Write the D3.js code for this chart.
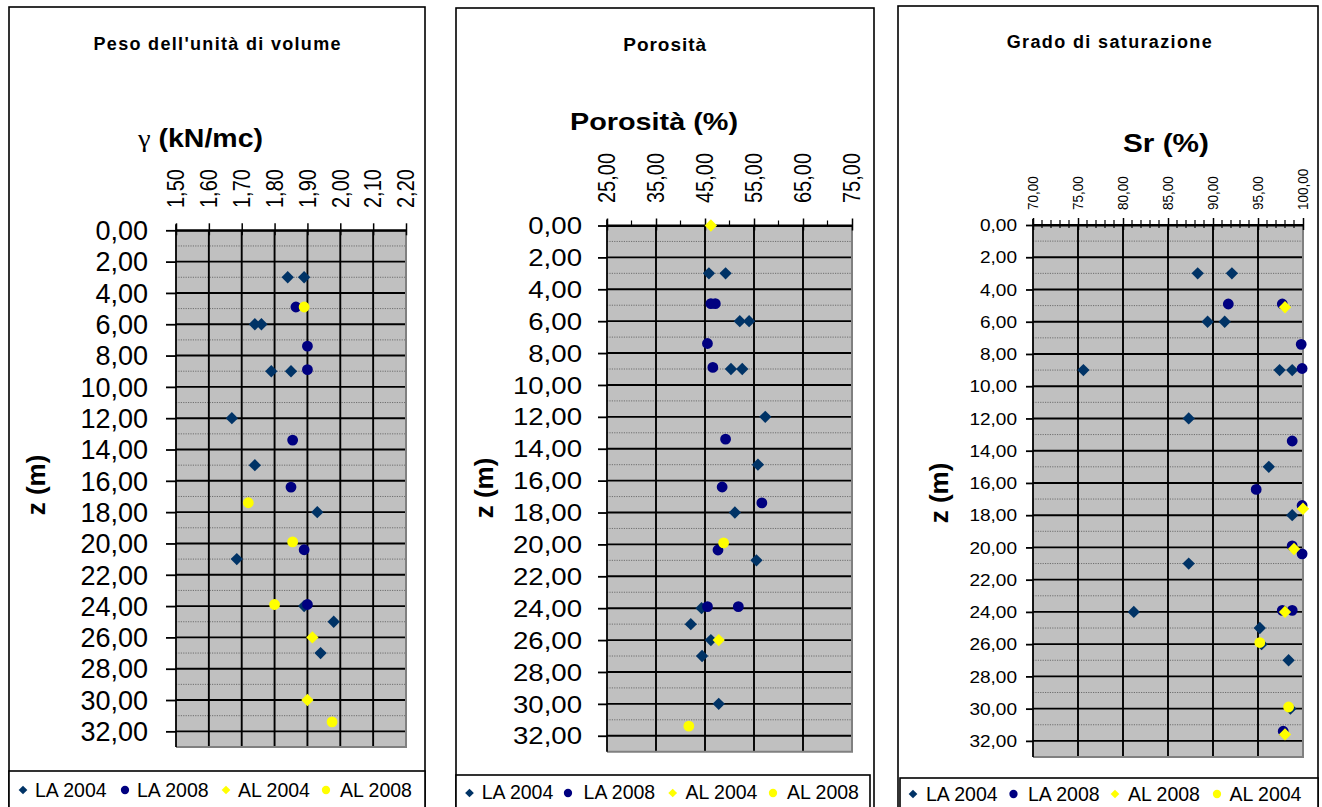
<!DOCTYPE html>
<html>
<head>
<meta charset="utf-8">
<script src="https://cdn.jsdelivr.net/npm/d3@7"></script>
<style>
  body { margin: 0; background: #fff; }
  svg { display: block; }
  text { font-family: "Liberation Sans", Arial, sans-serif; fill: #000; }
</style>
</head>
<body>
<svg id="chart" width="1322" height="807"></svg>
<script>
// ---- depth axis (shared) ----
const depthTicks = [0, 2, 4, 6, 8, 10, 12, 14, 16, 18, 20, 22, 24, 26, 28, 30, 32];
const depthMinor = [1, 3, 5, 7, 9, 11, 13, 15, 17, 19, 21, 23, 25, 27, 29, 31];

// ---- unit weight (kN/mc) ----
const gammaTicks = [1.5, 1.6, 1.7, 1.8, 1.9, 2.0, 2.1, 2.2];
const gammaLA2004 = [[1.84, 3], [1.89, 3], [1.74, 6], [1.76, 6], [1.79, 9], [1.85, 9], [1.67, 12],
                     [1.74, 15], [1.93, 18], [1.685, 21], [1.89, 24], [1.98, 25], [1.94, 27]];
const gammaLA2008 = [[1.865, 4.9], [1.90, 7.4], [1.90, 8.9], [1.855, 13.4], [1.85, 16.4], [1.89, 20.4], [1.90, 23.9]];
const gammaAL2004 = [[1.915, 26], [1.90, 30]];
const gammaAL2008 = [[1.89, 4.9], [1.72, 17.4], [1.855, 19.9], [1.80, 23.9], [1.975, 31.4]];

// ---- porosity (%) ----
const porosityTicks = [25, 35, 45, 55, 65, 75];
const porosityMinor = [30, 40, 50, 60, 70];
const porLA2004 = [[45.8, 3], [49.2, 3], [52.1, 6], [54.0, 6], [50.3, 9], [52.6, 9], [57.3, 12], [55.8, 15],
                   [51.1, 18], [55.5, 21], [44.3, 24], [42.1, 25], [46.2, 26], [44.4, 27], [47.8, 30]];
const porLA2008 = [[46.2, 4.9], [47.1, 4.9], [45.5, 7.4], [46.6, 8.9], [49.2, 13.4], [48.5, 16.4],
                   [56.6, 17.4], [47.65, 20.35], [45.5, 23.9], [51.8, 23.9]];
const porAL2004 = [[46.2, 0], [47.8, 26]];
const porAL2008 = [[48.8, 19.9], [41.7, 31.4]];

// ---- degree of saturation (%) ----
const srTicks = [70, 75, 80, 85, 90, 95, 100];
const srMinor = [71, 72, 73, 74, 76, 77, 78, 79, 81, 82, 83, 84, 86, 87, 88, 89, 91, 92, 93, 94, 96, 97, 98, 99];
const srLA2004 = [[88.3, 3], [92.1, 3], [89.4, 6], [91.3, 6], [75.6, 9], [97.4, 9], [98.8, 9], [87.3, 12],
                  [96.2, 15], [98.8, 18], [87.3, 21], [81.2, 24], [95.2, 25], [95.4, 26], [98.4, 27], [98.6, 30]];
const srLA2008 = [[91.7, 4.9], [97.7, 4.9], [99.8, 7.4], [99.9, 8.9], [98.8, 13.4], [94.8, 16.4], [99.9, 17.4],
                  [98.8, 19.9], [99.9, 20.4], [97.7, 23.9], [98.8, 23.9], [97.8, 31.4]];
const srAL2008 = [[98.0, 5.1], [100.0, 17.6], [99.0, 20.1], [98.0, 24.0], [98.0, 31.6]];
const srAL2004 = [[95.2, 25.9], [98.4, 29.9]];

// ---- legend labels ----
const legendLabels = ["LA 2004", "LA 2008", "AL 2004", "AL 2008"];
const legendLabelsSr = ["LA 2004", "LA 2008", "AL 2008", "AL 2004"];

// marker styles, in series order
const styles = [
  { shape: "diamond", color: "#003366" },
  { shape: "circle",  color: "#000080" },
  { shape: "diamond", color: "#FFFF00" },
  { shape: "circle",  color: "#FFFF00" }
];

const fmt = v => v.toFixed(2).replace(".", ",");

const panels = [
  {
    frame: { x: 9, y: 7, w: 416 },
    plot: { x0: 176, x1: 406, y0: 230.3, y1: 747 },
    title: { text: "Peso dell'unità di volume", x: 217, y: 50, size: 18, len: 247 },
    xTitle: { greek: "γ", text: " (kN/mc)", x: 200.5, y: 147, size: 26, len: 125 },
    zTitle: { x: 36, y: 485 },
    xDomain: [1.5, 2.2], xTicks: gammaTicks, xMinor: [],
    xLabel: { size: 20, bottom: 208, sy: 1.15 },
    yLabel: { size: 27, right: 148, sx: 1.0 },
    yTick: 10,
    series: [gammaLA2004, gammaLA2008, gammaAL2004, gammaAL2008],
    legend: { x: 9, y: 771, w: 416, labels: legendLabels,
              sym: [23, 125, 226, 326], txt: [35, 137, 238, 340], symY: 790, txtY: 797 }
  },
  {
    frame: { x: 456, y: 8, w: 418 },
    plot: { x0: 607, x1: 852, y0: 225.5, y1: 751.7 },
    title: { text: "Porosità", x: 664.7, y: 50.5, size: 19, len: 83 },
    xTitle: { text: "Porosità (%)", x: 654, y: 130, size: 24, len: 168 },
    zTitle: { x: 484, y: 488 },
    xDomain: [25, 75], xTicks: porosityTicks, xMinor: porosityMinor,
    xLabel: { size: 20, bottom: 203, sy: 1.15 },
    yLabel: { size: 24, right: 582, sx: 1.15 },
    yTick: 9,
    series: [porLA2004, porLA2008, porAL2004, porAL2008],
    legend: { x: 456, y: 775, w: 414, labels: legendLabels,
              sym: [469.5, 568, 672.7, 773], txt: [481.7, 583.6, 685.5, 787], symY: 793, txtY: 799 }
  },
  {
    frame: { x: 898, y: 6, w: 420 },
    plot: { x0: 1033, x1: 1303, y0: 225, y1: 757 },
    title: { text: "Grado di saturazione", x: 1109.2, y: 48, size: 18, len: 205 },
    xTitle: { text: "Sr (%)", x: 1166, y: 152, size: 26, len: 86 },
    zTitle: { x: 939, y: 493 },
    xDomain: [70, 100], xTicks: srTicks, xMinor: srMinor,
    xLabel: { size: 13.5, bottom: 210, sy: 1.1 },
    yLabel: { size: 17, right: 1017, sx: 1.12 },
    yTick: 7,
    series: [srLA2004, srLA2008, srAL2008, srAL2004],
    legend: { x: 900, y: 778, w: 418, labels: legendLabelsSr,
              sym: [913, 1013.5, 1115, 1217], txt: [926, 1028, 1128, 1229.5], symY: 794, txtY: 800.5 }
  }
];

const svg = d3.select("#chart");

function markerPath(shape, big) {
  if (shape === "diamond") return d3.symbol(d3.symbolSquare, big ? 76 : 38)();
  return d3.symbol(d3.symbolCircle, big ? 92 : 54)();
}

panels.forEach(p => {
  const g = svg.append("g");
  const P = p.plot;

  // chart-area frame
  g.append("rect")
    .attr("x", p.frame.x).attr("y", p.frame.y)
    .attr("width", p.frame.w).attr("height", 900)
    .attr("fill", "#fff").attr("stroke", "#000").attr("stroke-width", 1.6);

  const x = d3.scaleLinear().domain(p.xDomain).range([P.x0, P.x1]);
  const y = d3.scaleLinear().domain([0, 33]).range([P.y0, P.y1]);

  // plot area
  g.append("rect")
    .attr("x", P.x0).attr("y", P.y0)
    .attr("width", P.x1 - P.x0).attr("height", P.y1 - P.y0)
    .attr("fill", "#C0C0C0");

  // minor depth gridlines (dotted)
  g.append("g").selectAll("line").data(depthMinor).join("line")
    .attr("x1", P.x0).attr("x2", P.x1)
    .attr("y1", d => y(d)).attr("y2", d => y(d))
    .attr("stroke", "#6e6e6e").attr("stroke-width", 1)
    .attr("stroke-dasharray", "1.2,1.2");

  // major depth gridlines
  g.append("g").selectAll("line").data(depthTicks).join("line")
    .attr("x1", P.x0).attr("x2", P.x1)
    .attr("y1", d => y(d)).attr("y2", d => y(d))
    .attr("stroke", "#000").attr("stroke-width", 1.9);

  // vertical gridlines
  g.append("g").selectAll("line").data(p.xTicks.slice(1, -1)).join("line")
    .attr("x1", d => x(d)).attr("x2", d => x(d))
    .attr("y1", P.y0).attr("y2", P.y1)
    .attr("stroke", "#000").attr("stroke-width", 1.9);

  // right and bottom border of the plot area
  g.append("path")
    .attr("d", `M${P.x1},${P.y0}V${P.y1}H${P.x0}`)
    .attr("fill", "none").attr("stroke", "#808080").attr("stroke-width", 2);

  // top value axis (D3 axis, ticks crossing the line)
  const xAxis = d3.axisTop(x).tickValues(p.xTicks).tickFormat("").tickSizeInner(7).tickSizeOuter(0);
  const gx = g.append("g").attr("transform", `translate(0,${P.y0})`).call(xAxis);
  gx.select(".domain").attr("stroke", "#000").attr("stroke-width", 1.8);
  gx.selectAll(".tick line").attr("stroke", "#000").attr("stroke-width", 1.5).attr("y2", -7).attr("y1", 5);
  g.append("g").selectAll("line").data(p.xMinor).join("line")
    .attr("x1", d => x(d)).attr("x2", d => x(d))
    .attr("y1", P.y0 - 5).attr("y2", P.y0 + (p.xLabel.size < 15 ? 3 : 0))
    .attr("stroke", "#000").attr("stroke-width", 1.2);

  // rotated value labels (glyphs slightly stretched, as in the sheet's chart)
  g.append("g").selectAll("text").data(p.xTicks).join("text")
    .attr("transform", d => `translate(${x(d)},${p.xLabel.bottom}) rotate(-90) scale(1,${p.xLabel.sy})`)
    .attr("dy", "0.36em")
    .attr("text-anchor", "start")
    .attr("font-size", p.xLabel.size)
    .text(fmt);

  // left depth axis
  const yAxis = d3.axisLeft(y).tickValues(depthTicks).tickFormat("").tickSizeInner(p.yTick).tickSizeOuter(0);
  const gy = g.append("g").attr("transform", `translate(${P.x0},0)`).call(yAxis);
  gy.select(".domain").attr("stroke", "#000").attr("stroke-width", 1.8).attr("d", `M0,${P.y0 - 6}V${P.y1}`);
  gy.selectAll(".tick line").attr("stroke", "#000").attr("stroke-width", 1.8);

  g.append("g").selectAll("text").data(depthTicks).join("text")
    .attr("transform", d => `translate(${p.yLabel.right},${y(d)}) scale(${p.yLabel.sx},1)`)
    .attr("dy", "0.36em")
    .attr("text-anchor", "end")
    .attr("font-size", p.yLabel.size)
    .text(fmt);

  // markers, drawn series by series
  p.series.forEach((data, i) => {
    const st = styles[i];
    g.append("g").selectAll("path").data(data).join("path")
      .attr("d", markerPath(st.shape, true))
      .attr("transform", d => `translate(${x(d[0])},${y(d[1])})` + (st.shape === "diamond" ? " rotate(45)" : ""))
      .attr("fill", st.color);
  });

  // titles
  g.append("text")
    .attr("x", p.title.x).attr("y", p.title.y)
    .attr("text-anchor", "middle").attr("font-weight", "bold")
    .attr("font-size", p.title.size)
    .attr("textLength", p.title.len).attr("lengthAdjust", "spacing")
    .text(p.title.text);

  const xt = g.append("text")
    .attr("x", p.xTitle.x).attr("y", p.xTitle.y)
    .attr("text-anchor", "middle").attr("font-weight", "bold")
    .attr("font-size", p.xTitle.size)
    .attr("textLength", p.xTitle.len).attr("lengthAdjust", "spacingAndGlyphs");
  if (p.xTitle.greek) {
    xt.append("tspan")
      .attr("font-family", "'Liberation Serif', 'DejaVu Serif', serif")
      .attr("font-weight", "normal")
      .text(p.xTitle.greek);
  }
  xt.append("tspan").text(p.xTitle.text);

  g.append("text")
    .attr("transform", `translate(${p.zTitle.x},${p.zTitle.y}) rotate(-90)`)
    .attr("dy", "0.36em")
    .attr("text-anchor", "middle").attr("font-weight", "bold")
    .attr("font-size", 26)
    .text("z (m)");

  // legend
  const L = p.legend;
  const lg = g.append("g");
  lg.append("rect")
    .attr("x", L.x).attr("y", L.y).attr("width", L.w).attr("height", 60)
    .attr("fill", "#fff").attr("stroke", "#000").attr("stroke-width", 1.6);
  L.labels.forEach((lab, i) => {
    const st = styles[i];
    lg.append("path")
      .attr("d", markerPath(st.shape, false))
      .attr("transform", `translate(${L.sym[i]},${L.symY})` + (st.shape === "diamond" ? " rotate(45)" : ""))
      .attr("fill", st.color);
    lg.append("text")
      .attr("x", L.txt[i]).attr("y", L.txtY)
      .attr("font-size", 19.5)
      .text(lab);
  });
});
</script>
</body>
</html>
